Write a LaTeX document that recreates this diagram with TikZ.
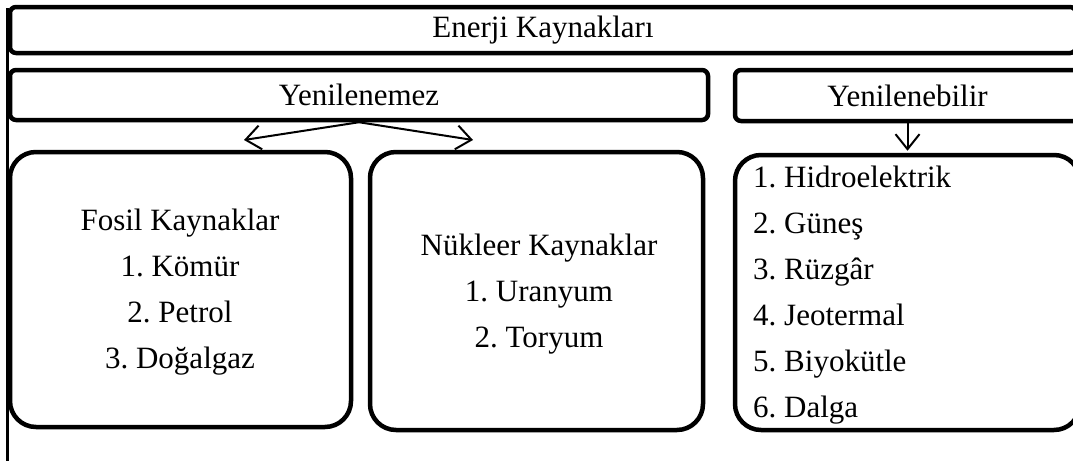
\documentclass[tikz,border=0pt]{standalone}
\usepackage{fontspec}
\setmainfont{Liberation Serif}
\frenchspacing
\usetikzlibrary{arrows.meta}
\tikzset{
  band/.style={draw, line width=4.5pt, rounded corners=6pt, inner sep=0pt, font=\fontsize{31}{37}\selectfont},
  group/.style={draw, line width=4.5pt, rounded corners=26pt, inner sep=0pt},
  entry/.style={anchor=base, inner sep=0pt, font=\fontsize{31}{37}\selectfont},
  link/.style={line width=2pt, -{Straight Barb[length=15pt,width=24pt,line width=2pt]}}
}
\begin{document}
\begin{tikzpicture}[x=1pt,y=-1pt]
	\useasboundingbox (0,0) rectangle (1073,461);
	\draw[line width=3pt] (7,8) -- (7,461);
	\node[band, minimum width=1066pt, minimum height=46pt] (top) at (543,30) {Enerji Kaynakları};
	\node[band, minimum width=698pt, minimum height=50pt] (nonren) at (359,95) {Yenilenemez};
	\node[band, minimum width=345pt, minimum height=51pt] (ren) at (907.5,95.5) {Yenilenebilir};
	\node[group, minimum width=341pt, minimum height=275pt] (fosil) at (180.5,289.5) {};
	\node[group, minimum width=333pt, minimum height=278pt] (nukleer) at (536.5,291) {};
	\node[group, minimum width=345pt, minimum height=275pt] (list) at (907.5,292.5) {};
	% groups of the list
	\foreach \t [count=\i] in {Fosil Kaynaklar, 1. Kömür, 2. Petrol, 3. Doğalgaz}
		\node[entry] (fosil\i) at (180,{184+46*\i}) {\t};
	\foreach \t [count=\i] in {Nükleer Kaynaklar, 1. Uranyum, 2. Toryum}
		\node[entry] (nukleer\i) at (539,{209+46*\i}) {\t};
	\foreach \t [count=\i] in {1. Hidroelektrik, 2. Güneş, 3. Rüzgâr, 4. Jeotermal, 5. Biyokütle, 6. Dalga}
		\node[entry, anchor=base west] (list\i) at (753,{141+46*\i}) {\t};
	% arrows
	\coordinate (fosiltip) at (244,140);
	\coordinate (nukltip) at (473,140);
	\draw[link] (nonren.south) -- (fosiltip);
	\draw[link] (nonren.south) -- (nukltip);
	\draw[link, shorten >=2pt] (ren.south) -- (list.north);
\end{tikzpicture}
\end{document}
